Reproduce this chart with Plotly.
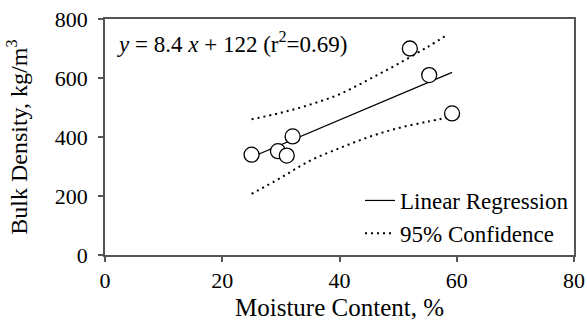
import plotly.graph_objects as go

# Observed data
moisture = [25.0, 29.5, 31.0, 32.0, 52.0, 55.3, 59.2]
density = [340, 352, 337, 402, 700, 610, 480]

# Regression line y = 8.4x + 122 (endpoints)
reg_x = [25.0, 59.2]
reg_y = [332, 619]

# 95% confidence band
band_x = [25, 30, 35, 40, 45, 50, 55, 58.5]
band_upper = [460, 482, 510, 545, 595, 648, 705, 748]
band_lower = [207, 262, 320, 362, 400, 430, 452, 466]

x_ticks = [0, 20, 40, 60, 80]
y_ticks = [0, 200, 400, 600, 800]

FONT = "Liberation Serif"

fig = go.Figure()
fig.add_trace(go.Scatter(x=reg_x, y=reg_y, mode="lines", name="Linear Regression",
                         line=dict(color="black", width=1.2), showlegend=True))
fig.add_trace(go.Scatter(x=band_x, y=band_upper, mode="lines", name="95% Confidence",
                         line=dict(color="black", width=2, dash="2px,4px", shape="spline"),
                         showlegend=True))
fig.add_trace(go.Scatter(x=band_x, y=band_lower, mode="lines", name="95% Confidence",
                         line=dict(color="black", width=2, dash="2px,4px", shape="spline"),
                         showlegend=False))
fig.add_trace(go.Scatter(x=moisture, y=density, mode="markers", showlegend=False,
                         marker=dict(symbol="circle", size=15, color="white",
                                     line=dict(color="black", width=1.3))))

fig.add_annotation(x=0, y=1, xref="paper", yref="paper", xanchor="left", yanchor="top",
                   xshift=10, yshift=-7, showarrow=False,
                   text="<i>y</i> = 8.4 <i>x</i> + 122 (r<sup>2</sup>=0.69)",
                   font=dict(family=FONT, size=23, color="black"))

axis_common = dict(showline=True, linecolor="#555", linewidth=1.5, mirror=True,
                   ticks="outside", ticklen=5, tickcolor="#555", tickwidth=1.5,
                   showgrid=False, zeroline=False, automargin=False,
                   ticklabeloverflow="allow",
                   tickfont=dict(family=FONT, size=22, color="black"))

fig.update_layout(
    width=587, height=322,
    margin=dict(l=105, r=13, t=19, b=67),
    paper_bgcolor="white", plot_bgcolor="white",
    font=dict(family=FONT, color="black"),
    xaxis=dict(range=[0, 80], tickvals=x_ticks,
               title=dict(text="Moisture Content, %", font=dict(family=FONT, size=25), standoff=6),
               **axis_common),
    yaxis=dict(range=[0, 800], tickvals=y_ticks, ticklabelstandoff=6,
               title=dict(text="Bulk Density, kg/m<sup>3</sup>", font=dict(family=FONT, size=24), standoff=20),
               **axis_common),
    legend=dict(x=1, y=0, xanchor="right", yanchor="bottom", bgcolor="rgba(0,0,0,0)",
                font=dict(family=FONT, size=23, color="black"),
                tracegroupgap=0),
)

fig.write_html("out.html")
